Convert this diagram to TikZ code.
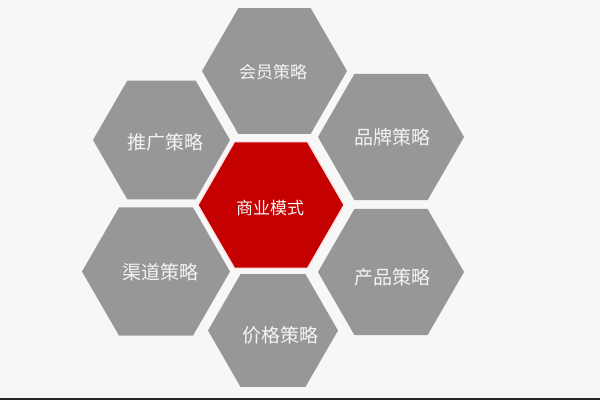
\documentclass[tikz,border=0pt]{standalone}
\usepackage{fontspec}
\newfontfamily\cjk{Noto Sans CJK SC}
\usetikzlibrary{shapes.geometric}
\definecolor{bggray}{HTML}{F7F7F7}
\definecolor{hexgray}{HTML}{979797}
\definecolor{hexred}{HTML}{C40000}
\definecolor{labelwhite}{HTML}{F4F4F4}

\begin{document}
\begin{tikzpicture}[x=1pt, y=-1pt,
    hex/.style={regular polygon, regular polygon sides=6, inner sep=0pt, fill=hexgray},
    core/.style={hex, fill=hexred, draw=red!12, line width=1.2pt},
    lbl/.style={text=labelwhite, inner sep=0pt, font=\cjk\fontsize{19}{19}\selectfont},
    lblsmall/.style={lbl, font=\cjk\fontsize{17}{17}\selectfont}]
    % Background
    \fill[bggray] (0,0) rectangle (600,400);
    \useasboundingbox (0,0) rectangle (600,400);
    \fill[black!85] (0,397.5) rectangle (600,400);

    % Outer hexagons
    \node[hex, minimum size=145pt] (member) at (274.5,71) {};
    \node[hex, minimum size=137pt] (promo) at (161.5,140) {};
    \node[hex, minimum size=146pt] (brand) at (391,137) {};
    \node[hex, minimum size=148pt] (channel) at (156,271.5) {};
    \node[hex, minimum size=146pt] (product) at (391,272) {};
    \node[hex, minimum size=130pt] (price) at (273,330.5) {};

    % Centre hexagon
    \node[core, minimum size=146pt] (model) at (271,205) {};

    % Labels
    \node[lblsmall] (member-t) at (273,72) {会员策略};
    \node[lblsmall] (model-t) at (270,208) {商业模式};
    \node[lbl] (promo-t) at (165,142) {推广策略};
    \node[lbl] (brand-t) at (392,137) {品牌策略};
    \node[lbl] (channel-t) at (160,272) {渠道策略};
    \node[lbl] (product-t) at (392,277) {产品策略};
    \node[lbl] (price-t) at (280,335) {价格策略};
\end{tikzpicture}
\end{document}
